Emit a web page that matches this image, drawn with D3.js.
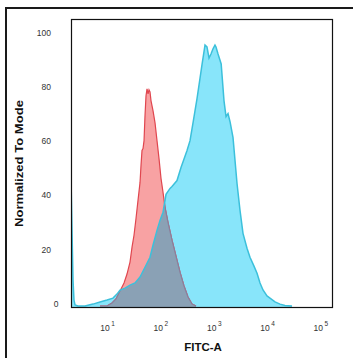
<!DOCTYPE html>
<html><head><meta charset="utf-8">
<script src="https://cdn.jsdelivr.net/npm/d3@7"></script>
<style>html,body{margin:0;padding:0;background:#fff;} svg{display:block;}</style>
</head><body><svg id="c" width="353" height="358"></svg>
<script>
// ---- data ----
const xTickExps = [1, 2, 3, 4, 5];
const yTicks = [0, 20, 40, 60, 80, 100];
const xTitle = "FITC-A";
const yTitle = "Normalized To Mode";

// blue (stained) histogram: log10(FITC-A) and % of mode
const blueExp = [0.325,0.344,0.363,0.381,0.400,0.456,0.588,0.738,0.869,1.000,1.112,1.187,1.244,1.337,1.431,1.525,1.619,1.712,1.806,1.862,1.937,1.993,2.050,2.106,2.143,2.181,2.218,2.312,2.387,2.500,2.556,2.612,2.687,2.743,2.780,2.837,2.874,2.912,2.949,2.987,3.024,3.043,3.081,3.140,3.193,3.231,3.268,3.306,3.362,3.437,3.493,3.549,3.624,3.680,3.755,3.812,3.868,3.924,3.999,4.055,4.149,4.243,4.336,4.468];
const blueVal = [47.4,27.9,9.6,2.2,0.4,0,0,0.7,1.5,2.2,2.9,4.4,5.9,6.6,7.7,8.5,10.7,14.3,18.0,22.4,27.9,31.6,34.6,41.2,42.3,43.4,44.1,46.3,51.1,57.4,61.0,67.6,76.5,84.0,89.0,96.3,95.6,91.5,93.0,94.9,96.3,95.6,93.0,89.3,75.7,69.9,71.0,68.0,62.1,45.2,35.3,26.8,21.3,18.0,14.7,12.1,8.5,5.9,3.7,2.9,1.5,0.7,0.2,0];

// red (control) histogram
const redExp = [0.869,1.000,1.094,1.169,1.244,1.319,1.375,1.431,1.469,1.506,1.544,1.581,1.619,1.637,1.656,1.675,1.694,1.712,1.731,1.750,1.769,1.787,1.806,1.825,1.862,1.900,1.937,1.975,2.012,2.050,2.087,2.143,2.218,2.293,2.368,2.443,2.518,2.593,2.668];
const redVal = [0,0,1.1,2.6,5.5,8.5,11.8,16.2,21.7,26.1,32.4,39.0,45.6,51.8,57.4,58.1,61.0,70.2,77.6,80.1,78.3,79.8,79.0,75.7,72.1,67.6,61.0,54.4,47.1,41.9,36.4,30.9,24.3,18.4,12.5,7.4,3.3,0.7,0];

// ---- drawing ----
const svg = d3.select("#c");
const box = {l:71, t:19, r:333, b:308};

const x = d3.scaleLog().domain([Math.pow(10,0.325), Math.pow(10,5.236)]).range([box.l, box.r]);
const y = d3.scaleLinear().domain([0,100]).range([306,35]);

svg.append("rect").attr("width",353).attr("height",358).attr("fill","#fff");
// outer frame (cut at right/bottom)
svg.append("rect").attr("x",6).attr("y",8).attr("width",420).attr("height",420)
  .attr("fill","none").attr("stroke","#1a1a1a").attr("stroke-width",2);

const defs = svg.append("defs");
defs.append("clipPath").attr("id","plotclip").append("rect")
  .attr("x",box.l).attr("y",box.t).attr("width",box.r-box.l).attr("height",box.b-box.t);

const toPts = (ex, vs) => ex.map((e,i)=>({x:Math.pow(10,e), v:vs[i]}));
const blue = toPts(blueExp, blueVal);
const red = toPts(redExp, redVal);

const area = d3.area().x(d=>x(d.x)).y0(box.b).y1(d=>y(d.v));
const line = d3.line().x(d=>x(d.x)).y(d=>y(d.v));

defs.append("clipPath").attr("id","blueclip").append("path").datum(blue).attr("d",area);

const g = svg.append("g").attr("clip-path","url(#plotclip)");
g.append("path").datum(blue).attr("d",area).attr("fill","#88e5fa");
g.append("path").datum(red).attr("d",area).attr("fill","#f8a2a3");
g.append("path").datum(red).attr("d",line).attr("fill","none").attr("stroke","#e0464f").attr("stroke-width",1.2);
const ov = g.append("g").attr("clip-path","url(#blueclip)");
ov.append("path").datum(red).attr("d",area).attr("fill","#8aa1b5");
ov.append("path").datum(red).attr("d",line).attr("fill","none").attr("stroke","#8a7f9c").attr("stroke-width",1.2);
g.append("path").datum(blue).attr("d",line).attr("fill","none").attr("stroke","#3cc0db").attr("stroke-width",1.5);

// plot box
svg.append("rect").attr("x",box.l+0.5).attr("y",box.t+0.5).attr("width",box.r-box.l-1).attr("height",box.b-box.t-1)
  .attr("fill","none").attr("stroke","#111").attr("stroke-width",1.2);

// y axis
const ya = svg.append("g").attr("transform",`translate(51,-2.5)`)
  .call(d3.axisLeft(y).tickValues(yTicks).tickSize(0).tickPadding(0).tickFormat(d3.format("d")));
ya.select(".domain").remove();
ya.selectAll("text").attr("font-family","Liberation Sans, Arial, sans-serif").attr("font-size",8.5).attr("fill","#333")
  .attr("x", d => d===0 ? 7.5 : 0);

// x axis
const xa = svg.append("g").attr("transform",`translate(0,${box.b})`)
  .call(d3.axisBottom(x).tickValues(xTickExps.map(e=>Math.pow(10,e))).tickSize(0).tickFormat(""));
xa.select(".domain").remove();
xa.selectAll(".tick").each(function(d,i){
  const t = d3.select(this).select("text").attr("y",22.5).attr("dy",0)
    .attr("font-family","Liberation Sans, Arial, sans-serif").attr("font-size",8.5).attr("fill","#333")
    .attr("text-anchor","middle");
  t.text(null);
  t.append("tspan").text("10");
  t.append("tspan").attr("dy",-5).attr("dx",1.5).attr("font-size",6.5).text(String(xTickExps[i]));
});

// titles
svg.append("text").attr("x",203).attr("y",351).attr("text-anchor","middle")
  .attr("font-family","Liberation Sans, Arial, sans-serif").attr("font-weight","bold").attr("font-size",11.5)
  .attr("fill","#111").text(xTitle);
svg.append("text").attr("transform","translate(23,163.5) rotate(-90)").attr("text-anchor","middle")
  .attr("font-family","Liberation Sans, Arial, sans-serif").attr("font-weight","bold").attr("font-size",10)
  .attr("textLength",127).attr("lengthAdjust","spacingAndGlyphs")
  .attr("fill","#111").text(yTitle);
</script></body></html>
